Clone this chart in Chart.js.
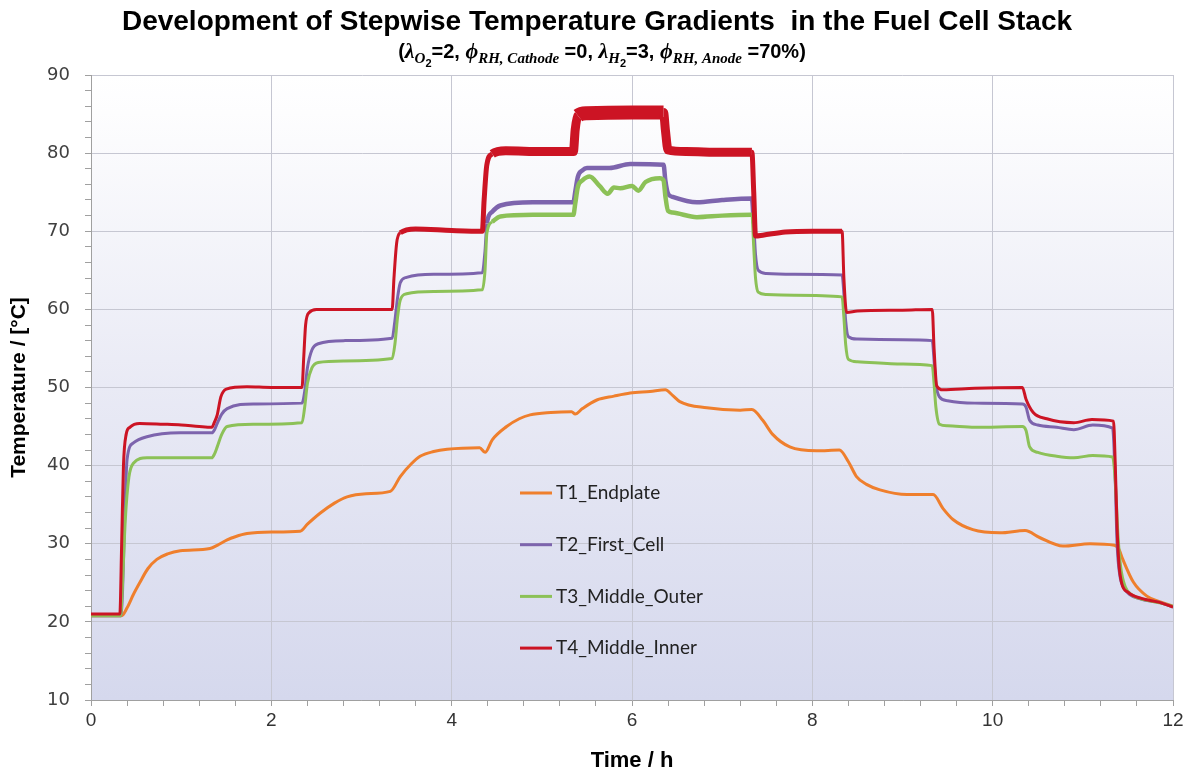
<!DOCTYPE html>
<html>
<head>
<meta charset="utf-8">
<script src="https://cdn.jsdelivr.net/npm/chart.js@4.4.1/dist/chart.umd.min.js"></script>
<style>
  body { margin: 0; background: #fff; }
</style>
</head>
<body>
<canvas id="myChart" width="1196" height="774"></canvas>
<script>
// T1 endplate
const t1Time = [
  0, 0.34, 0.4, 0.47, 0.54, 0.63, 0.73, 0.85, 0.99, 1.32,
  1.4, 1.51, 1.6, 1.73, 2.0, 2.32,
  2.4, 2.54, 2.7, 2.84, 3.05, 3.32,
  3.43, 3.55, 3.65, 3.8, 3.95, 4.31,
  4.37, 4.45, 4.61, 4.75, 4.87, 5.1, 5.33,
  5.37, 5.45, 5.61, 5.8, 5.98, 6.2, 6.37,
  6.45, 6.53, 6.83, 7.2, 7.33,
  7.45, 7.56, 7.75, 8.05, 8.3,
  8.4, 8.49, 8.6, 8.75, 9.05, 9.34,
  9.45, 9.56, 9.78, 10.08, 10.36,
  10.52, 10.78, 11.08, 11.35,
  11.4, 11.44, 11.56, 11.71, 11.85, 12.0
];
const t1Temp = [
  20.8, 20.8, 21.8, 23.5, 25, 26.8, 28.0, 28.7, 29.1, 29.4,
  29.8, 30.5, 30.9, 31.3, 31.5, 31.6,
  32.5, 33.9, 35.2, 36.0, 36.4, 36.7,
  38.6, 40.2, 41.2, 41.8, 42.1, 42.3,
  41.7, 43.3, 45.0, 46.0, 46.5, 46.8, 46.9,
  46.6, 47.3, 48.4, 48.9, 49.3, 49.5, 49.7,
  49.0, 48.2, 47.4, 47.1, 47.2,
  45.8, 44.0, 42.4, 41.9, 42.0,
  40.5, 38.6, 37.6, 36.9, 36.3, 36.3,
  34.5, 33.1, 31.8, 31.4, 31.7,
  30.8, 29.7, 30.0, 29.8,
  29.3, 28.1, 25.1, 23.3, 22.6, 22.0
];

// T2 first cell
const t2Time = [
  0, 0.33, 0.35, 0.37, 0.40, 0.47, 0.62, 0.99, 1.34,
  1.37, 1.40, 1.45, 1.51, 1.8, 2.34,
  2.37, 2.40, 2.45, 2.52, 2.8, 3.34,
  3.37, 3.40, 3.43, 3.5, 3.8, 4.34,
  4.37, 4.39, 4.45, 4.54, 4.9, 5.35,
  5.37, 5.40, 5.45, 5.5, 5.75, 5.98, 6.35,
  6.37, 6.40, 6.45, 6.72, 7.0, 7.33,
  7.35, 7.37, 7.40, 7.49, 7.8, 8.33,
  8.35, 8.37, 8.40, 8.5, 9.0, 9.33,
  9.35, 9.37, 9.41, 9.5, 9.8, 10.33,
  10.37, 10.41, 10.5, 10.71, 10.9, 11.11, 11.33,
  11.36, 11.38, 11.41, 11.45, 11.52, 11.65, 11.85, 12.0
];
const t2Temp = [
  20.8, 20.8, 24, 32, 40.8, 42.9, 43.7, 44.2, 44.2,
  44.6, 45.4, 46.6, 47.3, 47.9, 48,
  49.5, 52.5, 54.8, 55.6, 56.0, 56.3,
  58.5, 61.5, 63.4, 64.1, 64.5, 64.7,
  67.5, 71, 72.5, 73.3, 73.7, 73.7,
  75, 77, 77.8, 78.1, 78.1, 78.6, 78.5,
  76.5, 74.8, 74.4, 73.7, 74.0, 74.2,
  71, 67, 65, 64.6, 64.5, 64.4,
  62, 58.5, 56.5, 56.2, 56.1, 56,
  53.5, 50.5, 48.8, 48.3, 48, 47.9,
  47.5, 45.8, 45.2, 44.9, 44.6, 45.2, 44.8,
  38, 30, 26, 24.5, 23.5, 22.9, 22.5, 21.9
];

// T3 middle outer
const t3Time = [
  0, 0.33, 0.35, 0.38, 0.42, 0.47, 0.62, 0.99, 1.34,
  1.37, 1.40, 1.45, 1.51, 1.8, 2.34,
  2.37, 2.40, 2.45, 2.52, 2.8, 3.34,
  3.37, 3.40, 3.43, 3.5, 3.8, 4.34,
  4.37, 4.39, 4.45, 4.54, 4.9, 5.35,
  5.37, 5.40, 5.45, 5.53, 5.64, 5.73, 5.8, 5.87, 6.0, 6.07, 6.15, 6.31, 6.35,
  6.37, 6.40, 6.45, 6.72, 7.0, 7.33,
  7.35, 7.37, 7.40, 7.49, 7.8, 8.33,
  8.35, 8.37, 8.40, 8.5, 9.0, 9.33,
  9.35, 9.37, 9.41, 9.5, 9.8, 10.33,
  10.37, 10.41, 10.5, 10.71, 10.9, 11.11, 11.33,
  11.36, 11.39, 11.42, 11.47, 11.55, 11.7, 11.9, 12.0
];
const t3Temp = [
  20.8, 20.8, 25, 33, 38.5, 40.3, 41, 41, 41,
  41.5, 42.4, 44, 45, 45.3, 45.5,
  47.5, 50.5, 52.5, 53.2, 53.4, 53.7,
  55.5, 59, 61.2, 62, 62.3, 62.5,
  65, 69.7, 71.2, 71.9, 72.1, 72.1,
  73.5, 75.7, 76.5, 77, 75.8, 74.8, 75.6, 75.5, 75.8, 75.2, 76.3, 76.8, 76.5,
  74.5, 72.6, 72.4, 71.8, 72.0, 72.1,
  68, 64, 62.2, 61.9, 61.8, 61.6,
  59, 55.5, 53.6, 53.3, 53, 52.8,
  50.5, 47.5, 45.3, 45.1, 44.9, 45,
  44.5, 42.4, 41.7, 41.2, 41, 41.3, 41.1,
  38, 31, 27, 24.5, 23.4, 22.8, 22.3, 22.0
];

// T4 middle inner
const t4Time = [
  0, 0.32, 0.34, 0.36, 0.39, 0.43, 0.54, 0.8, 1.0, 1.2, 1.34,
  1.37, 1.4, 1.44, 1.5, 1.73, 2.0, 2.34,
  2.36, 2.38, 2.42, 2.5, 2.8, 3.34,
  3.36, 3.39, 3.43, 3.6, 4.0, 4.34,
  4.36, 4.39, 4.45, 4.6, 5.0, 5.35,
  5.37, 5.40, 5.5, 6.0, 6.35,
  6.37, 6.40, 6.6, 7.0, 7.33,
  7.35, 7.37, 7.45, 7.7, 8.0, 8.33,
  8.35, 8.38, 8.5, 9.0, 9.33,
  9.35, 9.38, 9.45, 9.8, 10.33,
  10.37, 10.45, 10.6, 10.9, 11.1, 11.34,
  11.36, 11.38, 11.40, 11.43, 11.5, 11.65, 11.85, 12.0
];
const t4Temp = [
  21.0, 21.0, 30, 40, 44, 44.9, 45.4, 45.3, 45.2, 45.0, 44.9,
  45.6, 46.5, 48.8, 49.8, 50.1, 50.0, 50.0,
  54, 58, 59.6, 60, 60, 60,
  64, 68.5, 69.8, 70.3, 70.1, 70,
  74, 78.5, 79.9, 80.3, 80.2, 80.2,
  83, 84.8, 85.1, 85.2, 85.2,
  83, 80.4, 80.2, 80.1, 80.1,
  75, 69.4, 69.5, 69.9, 70, 70,
  64, 59.6, 59.8, 59.9, 60,
  55, 50.2, 49.7, 49.9, 50,
  48.5, 46.8, 46.0, 45.5, 45.9, 45.7,
  40, 32, 27.5, 25, 23.8, 23, 22.5, 21.9
];

const seriesNames = ['T1_Endplate', 'T2_First_Cell', 'T3_Middle_Outer', 'T4_Middle_Inner'];
const xRange = [0, 12];
const yRange = [10, 90];

const titleText = 'Development of Stepwise Temperature Gradients  in the Fuel Cell Stack';
const subtitleParts = [
  ['(', 'n'], ['λ', 'm'], ['O', 's'], ['2', 'ss'], ['=2, ', 'n'],
  ['ϕ', 'm'], ['RH, Cathode', 's'], [' =0, ', 'n'],
  ['λ', 'm'], ['H', 's'], ['2', 'ss'], ['=3, ', 'n'],
  ['ϕ', 'm'], ['RH, Anode', 's'], [' =70%)', 'n']
];

const toPoints = (times, temps) => times.map((t, i) => ({ x: t, y: temps[i] }));
const isMajor = (v, step) => Math.abs(v / step - Math.round(v / step)) < 1e-6;

const plotBg = {
  id: 'plotBg',
  beforeDraw(chart) {
    const { ctx, chartArea: a } = chart;
    const g = ctx.createLinearGradient(0, a.top, 0, a.bottom);
    g.addColorStop(0, '#ffffff');
    g.addColorStop(0.06, '#fdfdfe');
    g.addColorStop(0.5, '#e9eaf5');
    g.addColorStop(1, '#d5d8ed');
    ctx.save();
    ctx.fillStyle = g;
    ctx.fillRect(a.left, a.top, a.right - a.left, a.bottom - a.top);
    ctx.restore();
  }
};

// title and subscripted subtitle, centred over the whole page
const headings = {
  id: 'headings',
  afterDraw(chart) {
    const ctx = chart.ctx;
    ctx.save();
    ctx.fillStyle = '#000';
    ctx.textAlign = 'center';
    ctx.textBaseline = 'middle';
    ctx.font = 'bold 28px "Liberation Sans", Arial, sans-serif';
    ctx.fillText(titleText, 597, 22);

    const fonts = {
      n: 'bold 20px "Liberation Sans Narrow", "Liberation Sans", sans-serif',
      m: 'italic bold 22px "Liberation Serif", serif',
      s: 'italic bold 15px "Liberation Serif", serif',
      ss: 'bold 11px "Liberation Sans", sans-serif'
    };
    const shift = { n: 0, m: 0, s: 5, ss: 9 };
    ctx.textAlign = 'left';
    ctx.textBaseline = 'alphabetic';
    let total = 0;
    subtitleParts.forEach(([txt, k]) => { ctx.font = fonts[k]; total += ctx.measureText(txt).width; });
    let x = 602 - total / 2;
    const base = 58;
    subtitleParts.forEach(([txt, k]) => {
      ctx.font = fonts[k];
      ctx.fillText(txt, x, base + shift[k]);
      x += ctx.measureText(txt).width;
    });
    ctx.restore();
  }
};

const innerLegend = {
  id: 'innerLegend',
  afterDraw(chart) {
    const ctx = chart.ctx;
    ctx.save();
    ctx.font = '19px Lato, "Open Sans", sans-serif';
    ctx.textBaseline = 'middle';
    ctx.fillStyle = '#222';
    chart.data.datasets.forEach((ds, i) => {
      const y = 493 + i * 51.7;
      ctx.strokeStyle = ds.borderColor;
      ctx.lineWidth = 3;
      ctx.beginPath();
      ctx.moveTo(520, y);
      ctx.lineTo(552, y);
      ctx.stroke();
      ctx.fillText(ds.label, 556, y);
    });
    ctx.restore();
  }
};

const redWidth = (c) => {
  const lo = Math.min(c.p0.parsed.y, c.p1.parsed.y);
  if (lo > 84) return 14;
  if (lo > 79) return 9;
  if (lo > 69) return 5;
  return 3;
};
const midWidth = (c) => Math.min(c.p0.parsed.y, c.p1.parsed.y) > 70 ? 4.5 : 3;

const ctx = document.getElementById('myChart');
const chart = new Chart(ctx, {
  type: 'line',
  data: {
    datasets: [
      { label: seriesNames[0], data: toPoints(t1Time, t1Temp), borderColor: '#ef7f2d', borderWidth: 3, order: 4 },
      { label: seriesNames[1], data: toPoints(t2Time, t2Temp), borderColor: '#7d64ad', borderWidth: 3, order: 3,
        segment: { borderWidth: midWidth } },
      { label: seriesNames[2], data: toPoints(t3Time, t3Temp), borderColor: '#8cc157', borderWidth: 3, order: 2,
        segment: { borderWidth: midWidth } },
      { label: seriesNames[3], data: toPoints(t4Time, t4Temp), borderColor: '#cc1424', borderWidth: 3, order: 1,
        segment: { borderWidth: redWidth } }
    ]
  },
  options: {
    responsive: false,
    animation: false,
    elements: { point: { radius: 0 }, line: { cubicInterpolationMode: 'monotone', borderJoinStyle: 'round' } },
    layout: { padding: { left: 0, right: 23, top: 75, bottom: 0 } },
    plugins: {
      legend: { display: false },
      tooltip: { enabled: false },
      title: { display: false }
    },
    scales: {
      x: {
        type: 'linear',
        min: xRange[0],
        max: xRange[1],
        afterFit: (s) => { s.height = 74; },
        ticks: {
          stepSize: 0.4,
          autoSkip: false,
          maxRotation: 0,
          padding: 3,
          color: '#333',
          font: { family: '"Liberation Sans Narrow", "Liberation Sans", sans-serif', size: 19 },
          callback: (v) => isMajor(v, 2) ? Math.round(v) : ''
        },
        grid: {
          color: (c) => c.tick && isMajor(c.tick.value, 2) ? '#c6c7d2' : 'rgba(0,0,0,0)',
          tickColor: '#a0a0a0',
          tickLength: 6
        },
        border: { color: '#a0a0a0' },
        title: {
          display: true,
          text: 'Time / h',
          color: '#000',
          font: { family: '"Liberation Sans Narrow", "Liberation Sans", sans-serif', size: 22, weight: 'bold' },
          padding: { top: 0, bottom: 0 }
        }
      },
      y: {
        min: yRange[0],
        max: yRange[1],
        afterFit: (s) => { s.width = 91; },
        ticks: {
          stepSize: 2,
          autoSkip: false,
          padding: 15,
          color: '#404040',
          font: { family: '"DejaVu Sans", sans-serif', size: 18 },
          callback: (v) => isMajor(v, 10) ? v : ''
        },
        grid: {
          color: (c) => c.tick && isMajor(c.tick.value, 10) ? '#c6c7d2' : 'rgba(0,0,0,0)',
          tickColor: '#a0a0a0',
          tickLength: 6
        },
        border: { color: '#a0a0a0' },
        title: {
          display: true,
          text: 'Temperature / [°C]',
          color: '#000',
          font: { family: '"Liberation Sans Narrow", "Liberation Sans", sans-serif', size: 21, weight: 'bold' },
          padding: { top: 7, bottom: 0 }
        }
      }
    }
  },
  plugins: [plotBg, headings, innerLegend]
});
</script>
</body>
</html>
